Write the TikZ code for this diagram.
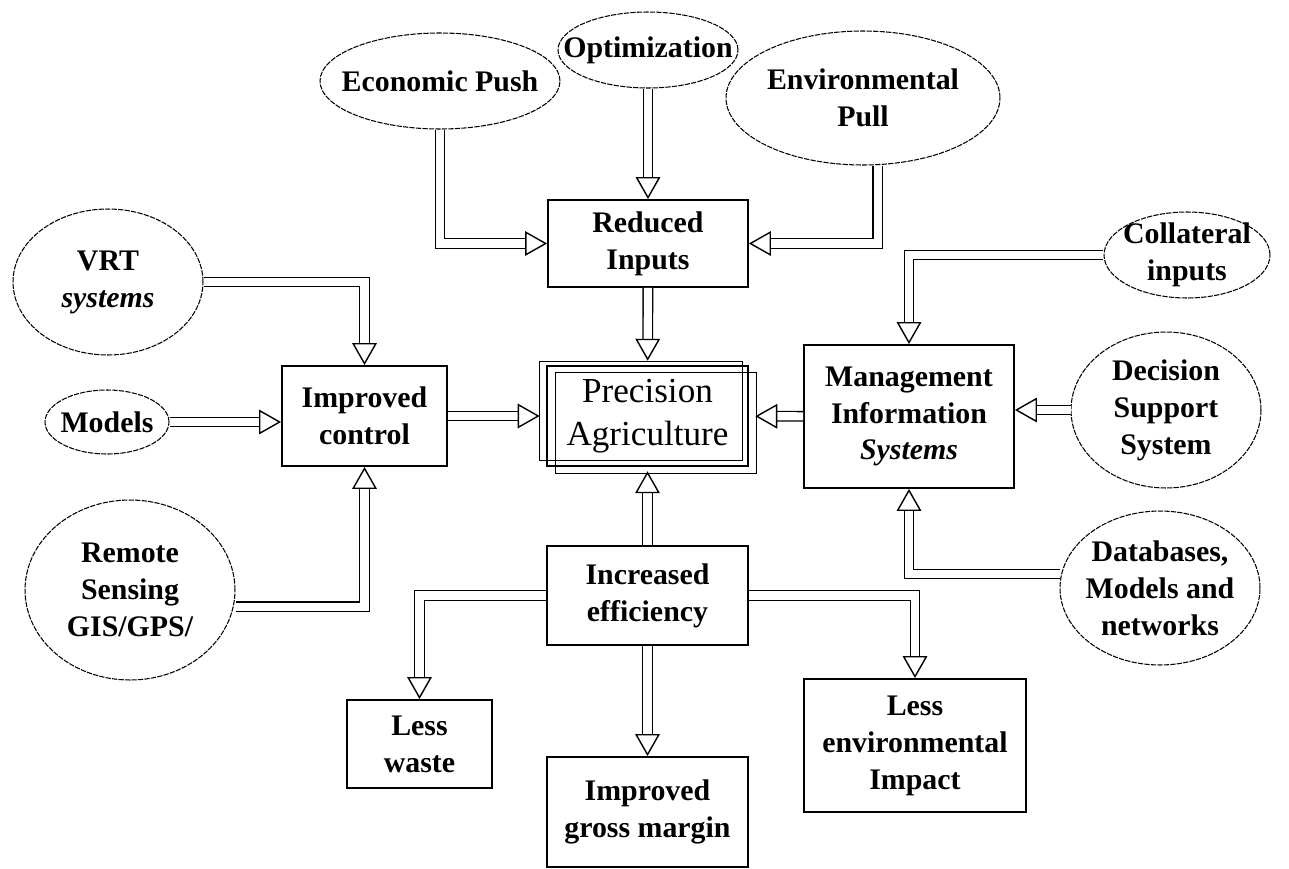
\documentclass[tikz,border=0pt]{standalone}
\usepackage{fontspec}
\setmainfont{Liberation Serif}
\usetikzlibrary{arrows.meta,shapes.geometric}

\newcommand{\boldtext}{\fontsize{17}{21}\selectfont\bfseries}
\newcommand{\bigtext}{\fontsize{20}{24.5}\selectfont}

\tikzset{
  oval/.style={draw, ellipse, line width=0.6pt, dash pattern=on 3pt off 0.7pt, inner sep=0pt},
  ovaltext/.style={font=\boldtext, align=center, inner sep=0pt},
  box/.style={draw, rectangle, line width=1.1pt, inner sep=0pt, align=center, font=\boldtext},
  flow/.style={draw=white, line width=0.4pt, shorten <=1pt,
    -{Triangle[open, length=12.5pt, width=14pt, color=black, fill=white, line width=0.8pt]},
    preaction={draw=black, double=white, double distance=4.6pt, line width=0.8pt,
      shorten <=0pt, shorten >=11pt, -}},
}

\begin{document}
\begin{tikzpicture}[x=0.02cm, y=-0.02cm]
  %%%%% START %%%%%
  \useasboundingbox (0,0) rectangle (1289,869);

  % driving forces on top
  \node[oval, minimum width=4.8cm, minimum height=1.92cm,
    label={[ovaltext]center:{Economic Push}}] (econ) at (440,81) {};
  \node[oval, minimum width=3.6cm, minimum height=1.52cm,
    label={[ovaltext]center:{Optimization}}] (optim) at (648,50) {};
  \node[oval, minimum width=5.48cm, minimum height=2.68cm,
    label={[ovaltext]center:{Environmental\\Pull}}] (envpull) at (863,98) {};

  % left hand inputs
  \node[oval, minimum width=3.8cm, minimum height=2.92cm,
    label={[ovaltext]center:{VRT\\\textit{systems}}}] (vrt) at (108,282) {};
  \node[oval, minimum width=2.48cm, minimum height=1.28cm,
    label={[ovaltext]center:{Models}}] (models) at (107,422) {};
  \node[oval, minimum width=4.2cm, minimum height=3.6cm,
    label={[ovaltext]center:{Remote\\Sensing\\GIS/GPS/}}] (remote) at (130,590) {};

  % right hand inputs
  \node[oval, minimum width=3.32cm, minimum height=1.72cm,
    label={[ovaltext]center:{Collateral\\inputs}}] (coll) at (1187,255) {};
  \node[oval, minimum width=3.8cm, minimum height=3.12cm,
    label={[ovaltext]center:{Decision\\Support\\System}}] (dss) at (1166,410) {};
  \node[oval, minimum width=4.0cm, minimum height=3.08cm,
    label={[ovaltext]center:{Databases,\\Models and\\networks}}] (db) at (1160,588) {};

  % boxes
  \node[box, minimum width=4.0cm, minimum height=1.74cm] (reduced) at (648,243.5) {Reduced\\Inputs};
  \node[box, minimum width=3.3cm, minimum height=2.0cm] (ictrl) at (364.5,416) {Improved\\control};
  \node[box, minimum width=4.2cm, minimum height=2.86cm] (mis) at (909,416.5) {Management\\Information\\\textit{Systems}};
  \node[box, minimum width=4.02cm, minimum height=1.98cm] (ie) at (647.5,595.5) {Increased\\efficiency};
  \node[box, minimum width=2.9cm, minimum height=1.76cm] (waste) at (419.5,744) {Less\\waste};
  \node[box, minimum width=4.02cm, minimum height=2.2cm] (gross) at (647.5,812) {Improved\\gross margin};
  \node[box, minimum width=4.44cm, minimum height=2.66cm] (lessenv) at (915,745.5) {Less\\environmental\\Impact};

  % centre box, three frames
  \node[box, line width=0.8pt, font=\bigtext, outer xsep=4.2pt, outer ysep=3pt,
    minimum width=4.02cm, minimum height=2.0cm] (pa) at (647.5,416) {Precision\\Agriculture};
  \draw[line width=0.8pt] ([shift={(0,1)}]pa.north west) rectangle ([shift={(-13,-11)}]pa.south east);
  \draw[line width=0.8pt] ([shift={(16,12)}]pa.north west) rectangle ([shift={(1,2)}]pa.south east);

  % arrows
  \draw[flow] (econ) |- (reduced);
  \draw[flow] (optim) -- (reduced);
  \draw[flow] ([xshift=8.5pt]envpull.south) |- (reduced);
  \draw[flow] (reduced) -- (pa);

  \draw[flow] (vrt) -| (ictrl);
  \draw[flow] (models.east) -- (models.east -| ictrl.west);
  \draw[flow] ([yshift=-9.5pt]remote.east) -| (ictrl);
  \draw[flow] (ictrl) -- (pa);

  \draw[flow] (coll) -| (mis);
  \draw[flow] (dss.west) -- (dss.west -| mis.east);
  \draw[flow] ([yshift=8pt]db.west) -| (mis);
  \draw[flow] (mis) -- (pa);

  \draw[flow] (ie) -- (pa);
  \draw[flow] (ie) -| (waste);
  \draw[flow] (ie) -- (gross);
  \draw[flow] (ie) -| (lessenv);
  %%%%% END %%%%%
\end{tikzpicture}
\end{document}
